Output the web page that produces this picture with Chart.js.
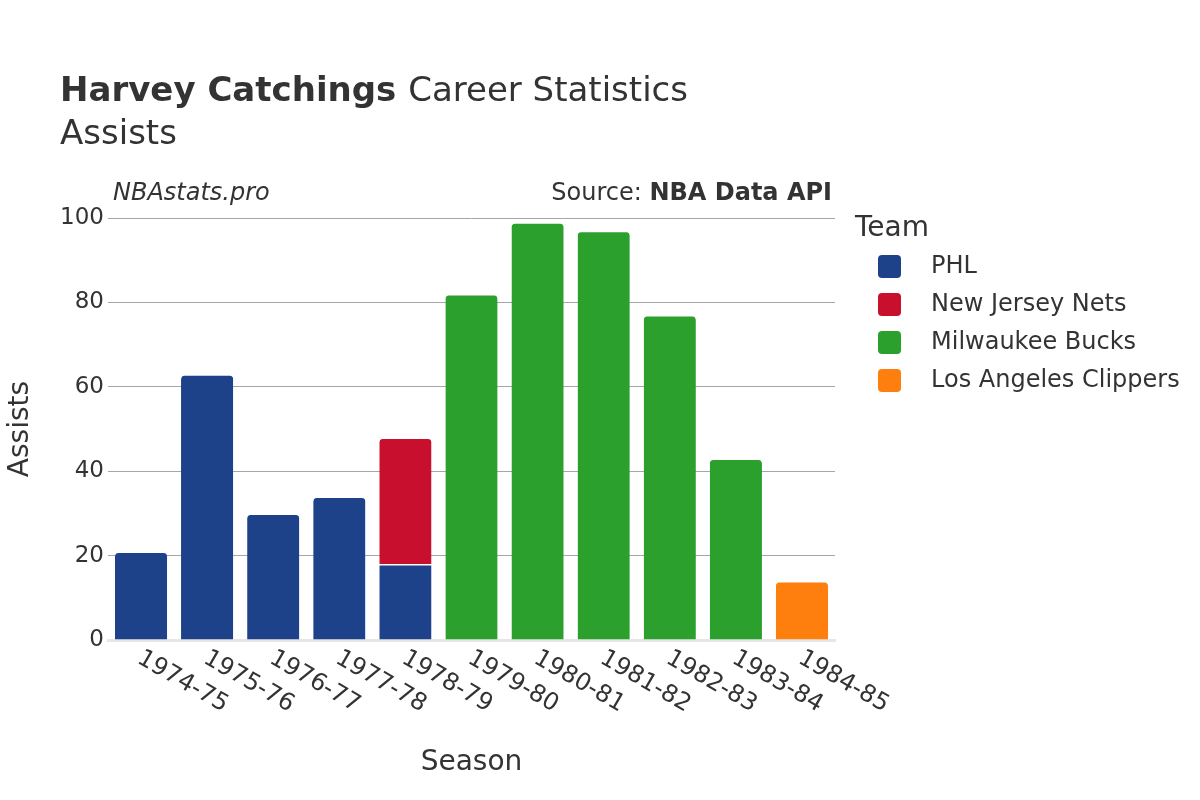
<!DOCTYPE html>
<html>
<head>
<meta charset="utf-8">
<script src="https://cdn.jsdelivr.net/npm/chart.js@4"></script>
<style>
  html, body { margin: 0; padding: 0; background: #fff; }
  #wrap { width: 1200px; height: 800px; position: relative; }
</style>
</head>
<body>
<div id="wrap"><canvas id="chart" width="1200" height="800"></canvas></div>
<script>
// Data
const seasons = ['1974-75', '1975-76', '1976-77', '1977-78', '1978-79', '1979-80',
                 '1980-81', '1981-82', '1982-83', '1983-84', '1984-85'];
const teams = ['PHL', 'New Jersey Nets', 'Milwaukee Bucks', 'Los Angeles Clippers'];
const teamColors = ['#1d428a', '#c8102e', '#2ca02c', '#ff7f0e'];
const phlAssists = [21, 63, 30, 34, 18, null, null, null, null, null, null];
const njnAssists = [null, null, null, null, 30, null, null, null, null, null, null];
const milAssists = [null, null, null, null, null, 82, 99, 97, 77, 43, null];
const lacAssists = [null, null, null, null, null, null, null, null, null, null, 14];
const yTicks = [0, 20, 40, 60, 80, 100];

const FONT = "'DejaVu Sans', sans-serif";
const TEXT = '#333333';

const series = [phlAssists, njnAssists, milAssists, lacAssists];

// Titles, axis labels, rotated season labels and the legend
const decorPlugin = {
    id: 'decor',
    afterDraw(chart) {
        const ctx = chart.ctx;
        const area = chart.chartArea;
        const xScale = chart.scales.x;
        ctx.save();
        ctx.fillStyle = TEXT;
        ctx.textBaseline = 'alphabetic';

        // Title
        ctx.textAlign = 'left';
        ctx.font = `bold 34px ${FONT}`;
        const bold = 'Harvey Catchings';
        ctx.fillText(bold, 60, 101);
        const w = ctx.measureText(bold + ' ').width;
        ctx.font = `34px ${FONT}`;
        ctx.fillText('Career Statistics', 60 + w, 101);
        ctx.fillText('Assists', 60, 144);

        // Watermark and source
        ctx.font = `italic 24px ${FONT}`;
        ctx.fillText('NBAstats.pro', 113, 200);
        ctx.textAlign = 'right';
        ctx.font = `bold 24px ${FONT}`;
        const src = 'NBA Data API';
        ctx.fillText(src, area.right - 3, 200);
        const sw = ctx.measureText(src).width;
        ctx.font = `24px ${FONT}`;
        ctx.fillText('Source: ', area.right - 3 - sw, 200);

        // Season labels, rotated 30 degrees
        ctx.font = `24px ${FONT}`;
        ctx.textAlign = 'left';
        seasons.forEach((s, i) => {
            const x = xScale.getPixelForTick(i);
            ctx.save();
            ctx.translate(x - 5, area.bottom + 22);
            ctx.rotate(Math.PI / 6);
            ctx.fillText(s, 0, 0);
            ctx.restore();
        });

        // Axis titles
        ctx.font = `28px ${FONT}`;
        ctx.textAlign = 'center';
        ctx.fillText('Season', (area.left + area.right) / 2, 770);
        ctx.save();
        ctx.translate(28, (area.top + area.bottom) / 2);
        ctx.rotate(-Math.PI / 2);
        ctx.fillText('Assists', 0, 0);
        ctx.restore();

        // Legend
        ctx.textAlign = 'left';
        ctx.font = `28px ${FONT}`;
        ctx.fillText('Team', 855, 236);
        ctx.font = `24px ${FONT}`;
        ctx.textBaseline = 'middle';
        chart.data.datasets.forEach((ds, i) => {
            const cy = 266 + i * 38;
            ctx.fillStyle = ds.backgroundColor;
            ctx.beginPath();
            ctx.roundRect(878, cy - 11, 23, 23, 4);
            ctx.fill();
            ctx.fillStyle = TEXT;
            ctx.fillText(ds.label, 931, cy + 1);
        });
        ctx.restore();
    }
};

new Chart(document.getElementById('chart'), {
    type: 'bar',
    data: {
        labels: seasons,
        datasets: teams.map((t, i) => ({
            label: t,
            data: series[i],
            backgroundColor: teamColors[i],
            borderColor: '#ffffff',
            borderWidth: { top: 1.5, left: 0, right: 0, bottom: 0 },
            borderRadius: 5,
            borderSkipped: 'bottom',
            barPercentage: 0.79,
            categoryPercentage: 1.0
        }))
    },
    options: {
        responsive: false,
        animation: false,
        devicePixelRatio: 1,
        layout: { padding: { left: 0, right: 365, top: 218, bottom: 0 } },
        plugins: {
            legend: { display: false },
            tooltip: { enabled: false }
        },
        scales: {
            x: {
                stacked: true,
                grid: { display: false, drawTicks: false },
                border: { display: true, color: '#e6e6e6', width: 3 },
                ticks: { display: false },
                afterFit: (scale) => { scale.height = 160; }
            },
            y: {
                stacked: true,
                min: 0,
                max: 100,
                afterBuildTicks: (scale) => { scale.ticks = yTicks.map(v => ({ value: v })); },
                grid: { color: '#a6a6a6', lineWidth: 1, drawTicks: false },
                border: { display: false },
                ticks: {
                    font: { family: FONT, size: 23 },
                    color: TEXT,
                    padding: 4
                },
                afterFit: (scale) => { scale.width = 108; }
            }
        }
    },
    plugins: [decorPlugin]
});
</script>
</body>
</html>
